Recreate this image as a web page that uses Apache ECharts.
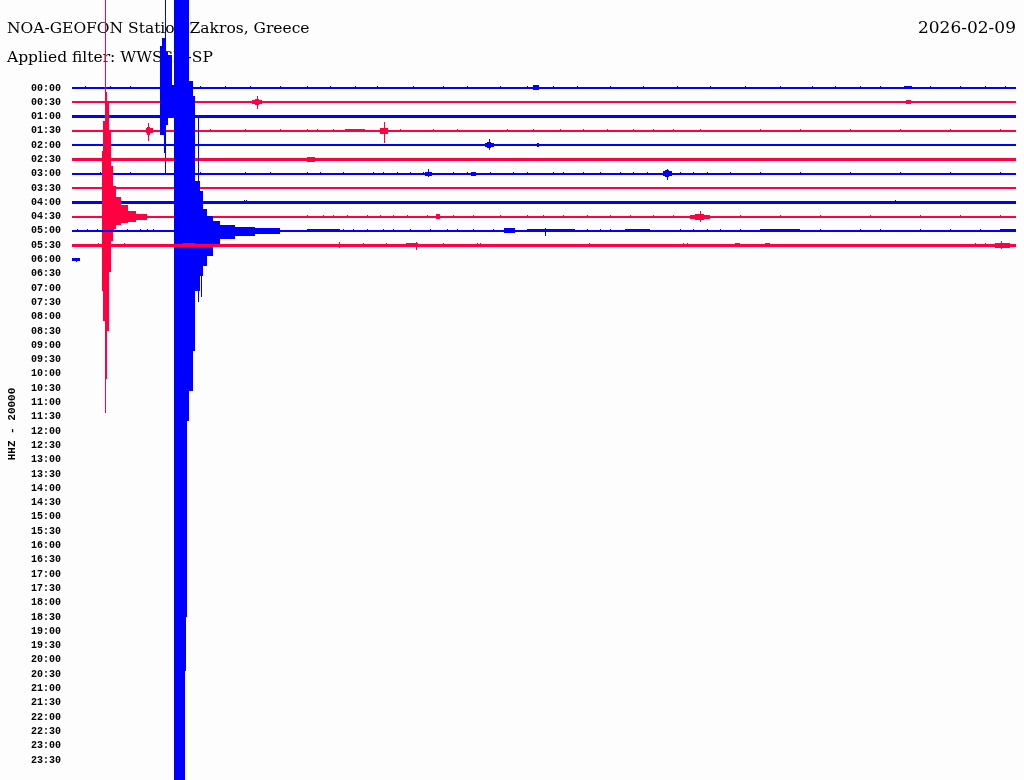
<!DOCTYPE html>
<html><head><meta charset="utf-8">
<script src="https://cdn.jsdelivr.net/npm/echarts@6/dist/echarts.min.js"></script>
<style>html,body{margin:0;padding:0;background:#fdfdfd}#c{width:1024px;height:780px}</style>
</head><body><div id="c"></div>
<script>
// ---------- texts ----------
const stationTitle = 'NOA-GEOFON Station Zakros, Greece';
const filterText = 'Applied filter: WWSSN-SP';
const dateText = '2026-02-09';
const channelText = 'HHZ - 20000';

// ---------- scale: one row = 20000 counts, x in minutes within a 30-min row ----------
const countsPerRow = 20000;
const rowMinutes = 30;

// ---------- row (tick) labels ----------
const rowLabels = ['00:00','00:30','01:00','01:30','02:00','02:30','03:00','03:30','04:00','04:30','05:00','05:30',
  '06:00','06:30','07:00','07:30','08:00','08:30','09:00','09:30','10:00','10:30','11:00','11:30',
  '12:00','12:30','13:00','13:30','14:00','14:30','15:00','15:30','16:00','16:30','17:00','17:30',
  '18:00','18:30','19:00','19:30','20:00','20:30','21:00','21:30','22:00','22:30','23:00','23:30'];

// minute where each recorded row ends
const rowEnds = [30,30,30,30,30,30,30,30,30,30,30,30,0.254];
// background noise half-amplitude per row (counts)
const rowNoise = [1400,1400,2100,1400,1400,2100,1400,1400,2100,1400,1400,2100,2100];
// typical small spike amplitude per row [up, down] (counts)
const tickAmp = [[2800,700],[2100,1400],[0,0],[2100,1400],[2100,1400],[1400,1400],[2100,1400],[2100,700],[2800,1400],[2100,1400],[2100,1400],[2800,2800],[0,2800]];
// minutes of small spikes per row
const tickTimes = [
  [0.41,1.21,1.84,4.07,4.86,5.66,6.61,7.47,8.20,8.99,9.69,10.84,11.79,12.55,13.60,14.46,15.29,16.05,17.10,18.15,19.23,20.28,21.39,22.50,23.52,24.25,25.04,25.68,26.47,27.27,28.22,29.01,29.65],
  [2.00,4.07,4.54,5.02,5.50,7.47,7.82,8.61,9.72,10.42,11.28,11.60,12.33,12.74,13.19,14.01,14.87,15.29,15.73,16.05,16.46,17.00,17.41,17.83,18.15,18.69,19.23,19.64,20.12,21.23,22.18,23.23,23.55,23.77,24.25,24.82,25.58,25.90,26.31,27.17,27.68,28.13,28.63,29.08,29.49,29.90],
  [],
  [4.39,5.50,6.61,7.47,7.79,8.29,10.42,11.47,12.23,13.82,14.65,15.51,16.24,17.00,17.83,18.46,19.10,19.96,21.86,23.13,24.72,26.31,27.90,29.49],
  [0.25,0.57,1.53,4.54,5.34,5.97,6.77,7.47,7.79,8.20,8.61,9.15,9.79,10.11,10.74,11.28,11.70,12.11,12.55,14.01,14.87,15.29,15.73,16.37,17.00,17.41,17.83,18.37,18.91,19.42,19.96,20.37,21.23,22.18,23.13,24.09,25.04,25.99,26.95,27.90,28.85,29.81],
  [17.16,17.48],
  [0.89,1.84,4.07,5.50,6.29,7.47,7.88,8.61,9.57,9.88,10.33,10.74,11.15,12.11,12.55,13.28,14.01,14.46,15.29,15.60,16.24,16.78,17.41,17.83,18.27,19.32,19.74,20.18,20.91,21.86,23.13,24.72,26.31,27.90,29.49],
  [0.89,2.48,4.07,5.66,6.93,7.88,8.52,9.06,9.79,10.11,10.52,11.15,11.92,12.33,13.06,13.38,14.65,15.29,15.92,16.46,17.41,17.60,17.90,18.20,18.55,18.85,19.20,19.50,19.85,20.20,20.50,21.86,23.13,25.68,26.31,27.90,29.17],
  [5.47,5.53,26.15],
  [7.47,7.98,8.29,8.74,9.37,9.79,10.20,10.65,11.28,12.11,12.74,13.60,14.46,14.97,15.60,16.37,17.10,17.73,18.46,19.10,21.23,22.50,23.77,25.36,26.95,28.22,29.49],
  [0.16,0.48,0.79,1.30,1.75,2.16,2.38,2.57,7.47,7.88,8.20,8.61,8.93,9.37,9.88,10.20,10.74,11.38,11.92,12.23,12.74,13.38,16.37,16.78,17.10,19.32,19.74,20.18,20.59,21.23,23.77,25.04,25.68,26.95,27.90,28.85],
  [0.83,1.65,9.25,9.98,11.79,12.87,12.97,16.43,19.42,19.54,28.70,29.01],
  [0.13]
];

// bursts / earthquakes: [row, startMinute, endMinute, upCounts, downCounts]
const events = [
  [0, 14.65, 14.84, 3500, 2100],
  [0, 26.45, 26.70, 2800, 1400],
  [1, 4.07, 5.66, 2100, 1400],
  [1, 5.72, 6.04, 2800, 2800],
  [1, 5.80, 5.95, 4200, 4200],
  [1, 5.88, 5.88, 8400, 9800],
  [1, 26.50, 26.65, 3500, 2100],
  [3, 2.35, 2.58, 3500, 3500],
  [3, 2.38, 2.48, 5600, 5600],
  [3, 2.42, 2.42, 11200, 14000],
  [3, 8.68, 9.31, 2800, 2100],
  [3, 9.78, 10.05, 4200, 4200],
  [3, 9.92, 9.92, 12600, 16800],
  [4, 2.796, 2.86, 139000, -14000],
  [4, 2.86, 2.955, 150000, -14000],
  [4, 2.955, 3.05, 130000, -28000],
  [4, 3.05, 3.168, 126000, -42000],
  [4, 3.168, 3.241, 84000, -42000],
  [4, 2.92, 2.92, 150000, 11000],
  [4, 2.97, 2.97, 140000, 39000],
  [4, 2.955, 2.955, 210000, 0],
  [4, 13.14, 13.40, 2800, 2800],
  [4, 13.20, 13.30, 4200, 4200],
  [4, 13.24, 13.24, 8400, 7000],
  [4, 14.78, 14.84, 2800, 2800],
  [5, 7.47, 7.72, 3500, 3500],
  [6, 11.22, 11.44, 2800, 2800],
  [6, 11.31, 11.31, 7000, 4200],
  [6, 12.68, 12.84, 2800, 2800],
  [6, 18.78, 19.07, 3500, 3500],
  [6, 18.85, 18.97, 4900, 4900],
  [6, 18.91, 18.91, 7000, 8400],
  [7, 17.32, 20.59, 2100, 1400],
  [9, 0.94, 0.985, 92000, 104000],
  [9, 0.985, 1.05, 134000, 146000],
  [9, 1.05, 1.074, 322000, 274000],
  [9, 1.074, 1.112, 174000, 227000],
  [9, 1.112, 1.166, 162000, 160000],
  [9, 1.166, 1.23, 120000, 78000],
  [9, 1.23, 1.303, 71000, 34000],
  [9, 1.303, 1.398, 43000, 17000],
  [9, 1.398, 1.557, 27000, 11000],
  [9, 1.557, 1.78, 17000, 8400],
  [9, 1.78, 2.034, 8400, 7000],
  [9, 2.034, 2.383, 4200, 4200],
  [9, 11.57, 11.70, 3500, 2800],
  [9, 19.64, 20.28, 2800, 2800],
  [9, 19.80, 20.10, 4200, 4200],
  [9, 19.96, 19.96, 8400, 7000],
  [10, 3.241, 3.591, 420000, 840000],
  [10, 3.591, 3.623, 420000, 616000],
  [10, 3.623, 3.645, 420000, 540000],
  [10, 3.645, 3.718, 420000, 266000],
  [10, 3.718, 3.845, 210000, 224000],
  [10, 3.845, 3.909, 189000, 168000],
  [10, 3.909, 4.067, 70000, 84000],
  [10, 4.067, 4.163, 56000, 63000],
  [10, 4.163, 4.28, 31000, 49000],
  [10, 4.28, 4.48, 21000, 35000],
  [10, 4.48, 4.703, 14000, 19600],
  [10, 4.703, 5.18, 8400, 11200],
  [10, 5.18, 5.815, 5600, 7000],
  [10, 5.815, 6.61, 4200, 4200],
  [10, 3.99, 3.99, 160000, 100000],
  [10, 4.10, 4.10, 56000, 92000],
  [10, 7.47, 8.52, 2800, 2100],
  [10, 13.73, 14.08, 3500, 3500],
  [10, 14.46, 15.98, 2800, 2100],
  [10, 15.03, 15.03, 4200, 7000],
  [10, 17.57, 18.37, 2100, 1400],
  [10, 21.86, 23.13, 2800, 2100],
  [10, 29.49, 30.0, 2800, 1400],
  [11, 3.53, 3.91, 2800, 2800],
  [11, 8.49, 8.49, 4200, 4200],
  [11, 10.61, 10.99, 2800, 2800],
  [11, 10.93, 10.93, 4200, 7000],
  [11, 21.07, 21.23, 2800, 2800],
  [11, 22.02, 22.18, 2800, 2800],
  [11, 29.33, 29.81, 3500, 3500],
  [11, 29.52, 29.52, 5600, 5600]
];

// ---------- build series data (row by row, drawn in order) ----------
const traceData = [];
for (let r = 0; r < rowEnds.length; r++) {
  traceData.push([r, 0, rowEnds[r], rowNoise[r], rowNoise[r]]);
  events.filter(e => e[0] === r).forEach(e => traceData.push(e));
  (tickTimes[r] || []).forEach(t => traceData.push([r, t, t, tickAmp[r][0], tickAmp[r][1]]));
}

const BLUE = '#0000ff', RED = '#ff0040';

function renderItem(params, api) {
  const r = api.value(0), t0 = api.value(1), t1 = api.value(2), up = api.value(3), dn = api.value(4);
  const base = -r * countsPerRow;
  const a = api.coord([t0, base + up]);
  const b = api.coord([t1, base - dn]);
  const x0 = Math.round(a[0]); let x1 = Math.round(b[0]); if (x1 <= x0) x1 = x0 + 1;
  const y0 = Math.round(a[1]); let y1 = Math.round(b[1]); if (y1 <= y0) y1 = y0 + 1;
  return { type: 'rect', shape: { x: x0, y: y0, width: x1 - x0, height: y1 - y0 },
           style: { fill: r % 2 === 0 ? BLUE : RED } };
}

const chart = echarts.init(document.getElementById('c'), null, { renderer: 'canvas', width: 1024, height: 780 });
const serif = 'DejaVu Serif';
chart.setOption({
  backgroundColor: '#fdfdfd',
  animation: false,
  title: [
    { text: stationTitle, left: 7, top: 21, padding: 0, z: 1,
      textStyle: { fontFamily: serif, fontSize: 15.5, fontWeight: 'normal', color: '#000' } },
    { text: filterText, left: 7, top: 50, padding: 0, z: 1,
      textStyle: { fontFamily: serif, fontSize: 15.5, fontWeight: 'normal', color: '#000' } },
    { text: dateText, right: 8, top: 20, padding: 0, z: 1,
      textStyle: { fontFamily: serif, fontSize: 17, fontWeight: 'normal', color: '#000' } }
  ],
  graphic: [
    { type: 'text', x: 12, y: 424, rotation: Math.PI / 2, z: 1,
      style: { text: channelText, fill: '#000', font: 'bold 11px "Liberation Mono"', align: 'center', verticalAlign: 'middle' } }
  ],
  grid: { left: 72, right: 8, top: 88, bottom: 20, containLabel: false, outerBoundsMode: 'none' },
  xAxis: { type: 'value', min: 0, max: rowMinutes, show: false },
  yAxis: {
    type: 'value', min: -(rowLabels.length - 1) * countsPerRow, max: 0, interval: countsPerRow,
    axisLine: { show: false }, axisTick: { show: false }, splitLine: { show: false },
    axisLabel: {
      show: true, showMinLabel: true, showMaxLabel: true, margin: 11,
      fontFamily: 'Liberation Mono', fontWeight: 'bold', fontSize: 10, color: '#000',
      formatter: v => rowLabels[Math.round(-v / countsPerRow)] || ''
    }
  },
  series: [{
    type: 'custom', renderItem: renderItem, data: traceData, clip: false, silent: true, z: 10,
    encode: { x: [1, 2], y: [3] }
  }]
});
</script></body></html>
